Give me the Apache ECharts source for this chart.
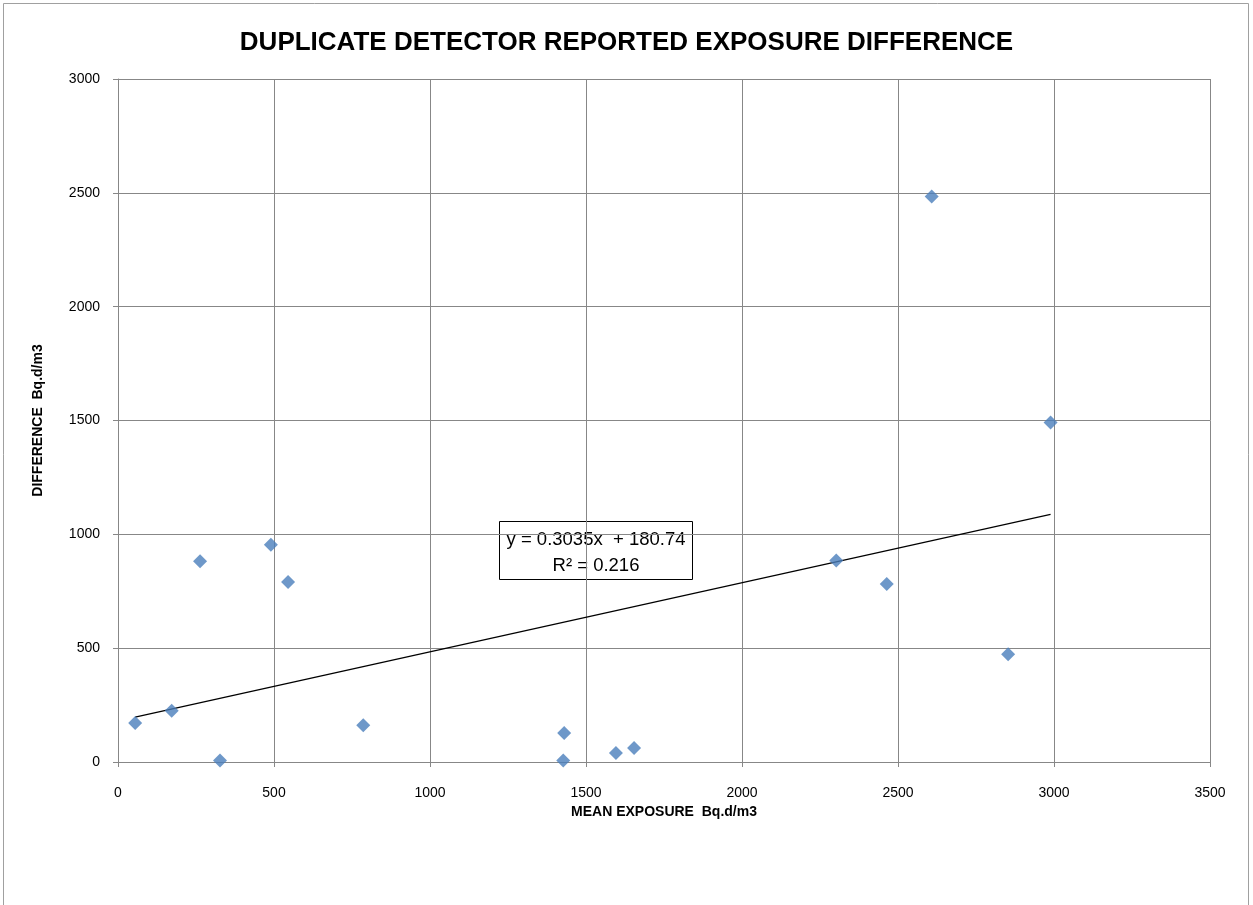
<!DOCTYPE html>
<html>
<head>
<meta charset="utf-8">
<script src="https://cdn.jsdelivr.net/npm/echarts@6/dist/echarts.min.js"></script>
<style>
html,body{margin:0;padding:0;background:#fff;}
#chart{width:1253px;height:905px;}
</style>
</head>
<body>
<div id="chart"></div>
<script>
// Data
var meanExposure = [55, 172, 263, 327, 490, 545, 786, 1427, 1430, 1596, 1654, 2302, 2464, 2608, 2853, 2989];
var difference   = [171, 225, 882, 7, 954, 791, 161, 7, 127, 40, 61, 885, 782, 2484, 473, 1491];
var trendSlope = 0.3035;
var trendIntercept = 180.74;
var trendR2 = 0.216;
var xTicks = [0, 500, 1000, 1500, 2000, 2500, 3000, 3500];
var yTicks = [0, 500, 1000, 1500, 2000, 2500, 3000];
var titleText = 'DUPLICATE DETECTOR REPORTED EXPOSURE DIFFERENCE';
var xName = 'MEAN EXPOSURE  Bq.d/m3';
var yName = 'DIFFERENCE  Bq.d/m3';

var points = meanExposure.map(function (x, i) { return [x, difference[i]]; });
var xMin = Math.min.apply(null, meanExposure);
var xMax = Math.max.apply(null, meanExposure);
var trend = [[xMin, trendSlope * xMin + trendIntercept], [xMax, trendSlope * xMax + trendIntercept]];

var chart = echarts.init(document.getElementById('chart'), null, {renderer: 'canvas'});
var gridColor = '#878787';
var font = '"Liberation Sans", Arial, sans-serif';
function plain(v) { return String(v); }

chart.setOption({
  animation: false,
  backgroundColor: '#ffffff',
  title: {
    text: titleText,
    left: 'center',
    top: 25,
    textStyle: {fontFamily: font, fontWeight: 'bold', fontSize: 26, color: '#000'}
  },
  grid: {left: 118, right: 43, top: 79, bottom: 143},
  xAxis: {
    type: 'value', min: xTicks[0], max: xTicks[xTicks.length - 1], interval: 500,
    name: xName, nameLocation: 'middle', nameGap: 36,
    nameTextStyle: {fontFamily: font, fontWeight: 'bold', fontSize: 14, color: '#000'},
    axisLine: {show: true, lineStyle: {color: gridColor, width: 1}},
    axisTick: {show: true, inside: false, length: 5, lineStyle: {color: gridColor}},
    axisLabel: {fontFamily: font, fontSize: 14, color: '#000', margin: 24, formatter: plain},
    splitLine: {show: true, lineStyle: {color: gridColor, width: 1}}
  },
  yAxis: {
    type: 'value', min: yTicks[0], max: yTicks[yTicks.length - 1], interval: 500,
    name: yName, nameLocation: 'middle', nameGap: 73, nameRotate: 90,
    nameTextStyle: {fontFamily: font, fontWeight: 'bold', fontSize: 14, color: '#000'},
    axisLine: {show: true, lineStyle: {color: gridColor, width: 1}},
    axisTick: {show: true, inside: false, length: 5, lineStyle: {color: gridColor}},
    axisLabel: {fontFamily: font, fontSize: 14, color: '#000', margin: 18, formatter: plain},
    splitLine: {show: true, lineStyle: {color: gridColor, width: 1}}
  },
  series: [
    {
      type: 'line',
      data: trend,
      symbol: 'none',
      lineStyle: {color: '#000', width: 1.2},
      z: 2
    },
    {
      type: 'scatter',
      data: points,
      symbol: 'diamond',
      symbolSize: [14, 14],
      itemStyle: {color: '#4A7EBB'},
      z: 3
    }
  ],
  graphic: [
    {
      type: 'rect',
      shape: {x: 3.5, y: 3.5, width: 1245, height: 920},
      style: {fill: 'none', stroke: '#A0A0A0', lineWidth: 1},
      silent: true
    },
    {
      type: 'group',
      left: 499, top: 521,
      children: [
        {type: 'rect', shape: {x: 0, y: 0, width: 193, height: 58},
         style: {fill: '#fff', stroke: '#000', lineWidth: 1}},
        {type: 'text', x: 96.5, y: 18,
         style: {text: 'y = ' + trendSlope + 'x  + ' + trendIntercept, fontFamily: font, fontSize: 18.5,
                 fill: '#000', textAlign: 'center', textVerticalAlign: 'middle'}},
        {type: 'text', x: 96.5, y: 44,
         style: {text: 'R\u00B2 = ' + trendR2, fontFamily: font, fontSize: 18.5,
                 fill: '#000', textAlign: 'center', textVerticalAlign: 'middle'}}
      ]
    }
  ]
});
</script>
</body>
</html>
